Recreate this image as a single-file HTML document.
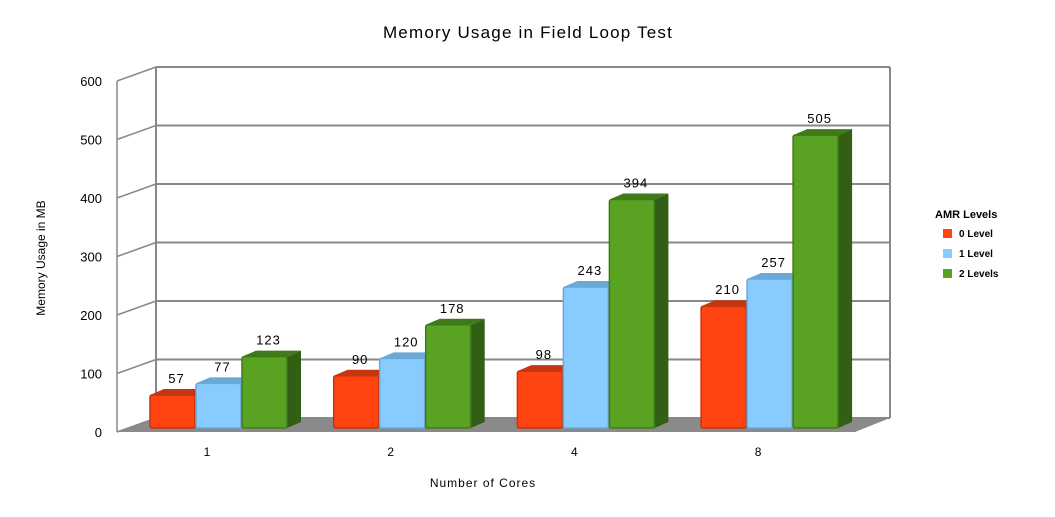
<!DOCTYPE html>
<html><head><meta charset="utf-8"><style>
body{margin:0;background:#fff;width:1055px;height:512px;overflow:hidden}
svg text{font-family:"Liberation Sans",sans-serif}
</style></head><body>
<svg id="c" width="1055" height="512">
<text x="528" y="38" text-anchor="middle" font-size="17" letter-spacing="1.2" fill="#000">Memory Usage in Field Loop Test</text>
<text x="45" y="258" text-anchor="middle" font-size="12" transform="rotate(-90 45 258)">Memory Usage in MB</text>
<text x="483" y="487" text-anchor="middle" font-size="12" letter-spacing="1">Number of Cores</text>
<g id="grid"></g><g id="bars"></g>
<g>
<text x="935" y="218" font-size="11" font-weight="bold">AMR Levels</text>
<rect x="943" y="229" width="9" height="9" fill="#ff4411"/><text x="959" y="237" font-size="10" font-weight="bold">0 Level</text>
<rect x="943" y="249" width="9" height="9" fill="#88ccff"/><text x="959" y="257" font-size="10" font-weight="bold">1 Level</text>
<rect x="943" y="269" width="9" height="9" fill="#5aa322"/><text x="959" y="277" font-size="10" font-weight="bold">2 Levels</text>
</g>
</svg>
<script>
const categories=["1","2","4","8"];
const level0=[57,90,98,210];
const level1=[77,120,243,257];
const level2=[123,178,394,505];
const yTicks=[0,100,200,300,400,500,600];
const NS="http://www.w3.org/2000/svg";
function mk(t,a,p){const e=document.createElementNS(NS,t);for(const k in a)e.setAttribute(k,a[k]);p.appendChild(e);return e;}
const FX=117,FY=432,BX=156,BY=418,BR=890,FR=855,SC=0.585;
const yF=v=>FY-v*SC, yB=v=>BY-v*SC;
const grid=document.getElementById('grid');
mk('polygon',{points:`${FX},${FY} ${FR},${FY} ${BR},${BY} ${BX},${BY}`,fill:'#8a8a8a'},grid);
mk('line',{x1:BX,y1:yB(600),x2:BX,y2:BY,stroke:'#888','stroke-width':2},grid);
mk('line',{x1:BR,y1:yB(600),x2:BR,y2:BY,stroke:'#888','stroke-width':2},grid);
mk('line',{x1:FX,y1:yF(600),x2:FX,y2:FY,stroke:'#888','stroke-width':1.5},grid);
yTicks.forEach(v=>{
  const g=mk('line',{x1:BX,y1:yB(v),x2:BR,y2:yB(v),stroke:'#888','stroke-width':2},grid);
  
  mk('line',{x1:FX,y1:yF(v),x2:BX,y2:yB(v),stroke:'#888','stroke-width':1.5},grid);
  const t=mk('text',{x:102,y:yF(v)+5,'text-anchor':'end','font-size':13},grid);t.textContent=v;
  
});
const bars=document.getElementById('bars');
const series=[[level0,'#ff4411','#a82a08','#c43510'],[level1,'#88ccff','#5a8fb8','#6aa8d8'],[level2,'#5aa322','#335f14','#3f7a1a']];
const BOT=428,W=45,DX=14,DY=6,BSC=0.58;
categories.forEach((c,i)=>{
  const gx=150+i*183.7;
  const t=mk('text',{x:gx+57,y:456,'text-anchor':'middle','font-size':12},bars);t.textContent=c;
  
  series.forEach((s,j)=>{
    const v=s[0][i],x=gx+j*46,top=BOT-v*BSC;
    const g=mk('g',{},bars);
    
    
    mk('polygon',{points:`${x+W},${top} ${x+W+DX},${top-DY} ${x+W+DX},${BOT-DY} ${x+W},${BOT}`,fill:s[2]},g);
    mk('polygon',{points:`${x},${top} ${x+DX},${top-DY} ${x+W+DX},${top-DY} ${x+W},${top}`,fill:s[3]},g);
    mk('rect',{x:x,y:top,width:W,height:BOT-top,fill:s[1],stroke:s[3],'stroke-width':1.5,rx:2},g);
    const l=mk('text',{x:x+W/2+4,y:top-12,'text-anchor':'middle','font-size':13,'letter-spacing':1},bars);l.textContent=v;
    
  });
});
</script>
</body></html>
